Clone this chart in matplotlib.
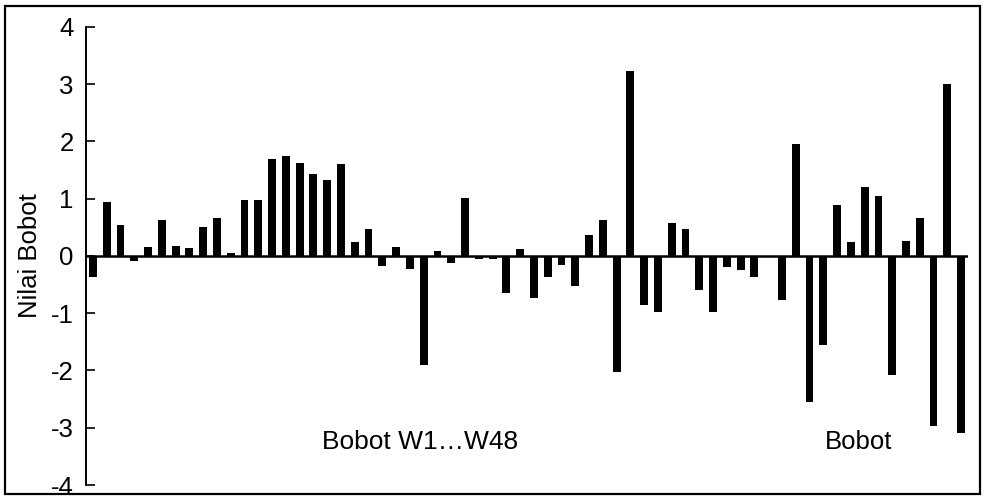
import matplotlib
matplotlib.use("Agg")
import matplotlib.pyplot as plt
from matplotlib.patches import Rectangle
import numpy as np

plt.rcParams['font.family'] = ['Liberation Sans', 'DejaVu Sans']

weights = [-0.36, 0.94, 0.55, -0.09, 0.16, 0.63, 0.17, 0.14, 0.51, 0.67,
           0.05, 0.98, 0.98, 1.70, 1.74, 1.63, 1.44, 1.32, 1.60, 0.25,
           0.48, -0.17, 0.16, -0.22, -1.90, 0.09, -0.13, 1.01, -0.06, -0.05,
           -0.64, 0.13, -0.74, -0.36, -0.16, -0.52, 0.37, 0.63, -2.03, 3.23,
           -0.86, -0.97, 0.58, 0.47, -0.60, -0.98, -0.20, -0.25, -0.37, 0.0,
           -0.77, 1.96, -2.55, -1.55, 0.89, 0.24, 1.20, 1.04, -2.08, 0.27,
           0.67, -2.97, 3.01, -3.10]
y_ticks = [-4, -3, -2, -1, 0, 1, 2, 3, 4]
y_label = "Nilai Bobot"
group_labels = ["Bobot W1\u2026W48", "Bobot"]

fig = plt.figure(figsize=(9.9, 4.98), dpi=100)
ax = fig.add_axes([0.0869, 0.0261, 0.8909, 0.9197])

x = np.arange(len(weights))
ax.bar(x, weights, width=0.57, color='black', zorder=3)
ax.axhline(0, color='black', lw=1.8, zorder=4)

ax.set_xlim(-0.5, len(weights) - 0.5)
ax.set_ylim(-4, 4)
ax.set_yticks(y_ticks)
ax.set_yticklabels([str(t) for t in y_ticks])
ax.set_xticks([])
for s in ['top', 'right', 'bottom']:
    ax.spines[s].set_visible(False)
ax.spines['left'].set_linewidth(1.4)
ax.tick_params(axis='y', direction='in', length=6.5, width=1.2,
               pad=9, labelsize=18.5)
ax.set_ylabel(y_label, fontsize=18.5)
ax.yaxis.set_label_coords(-0.050, 0.5)

ax.text(16.6, -3.25, group_labels[0], fontsize=19, ha='left', va='center')
ax.text(53.1, -3.25, group_labels[1], fontsize=18.5, ha='left', va='center')

fig.patches.append(Rectangle((0.005, 0.008), 0.985, 0.98, transform=fig.transFigure,
                             fill=False, edgecolor='black', lw=1.6))

fig.savefig("out.png", dpi=100)
